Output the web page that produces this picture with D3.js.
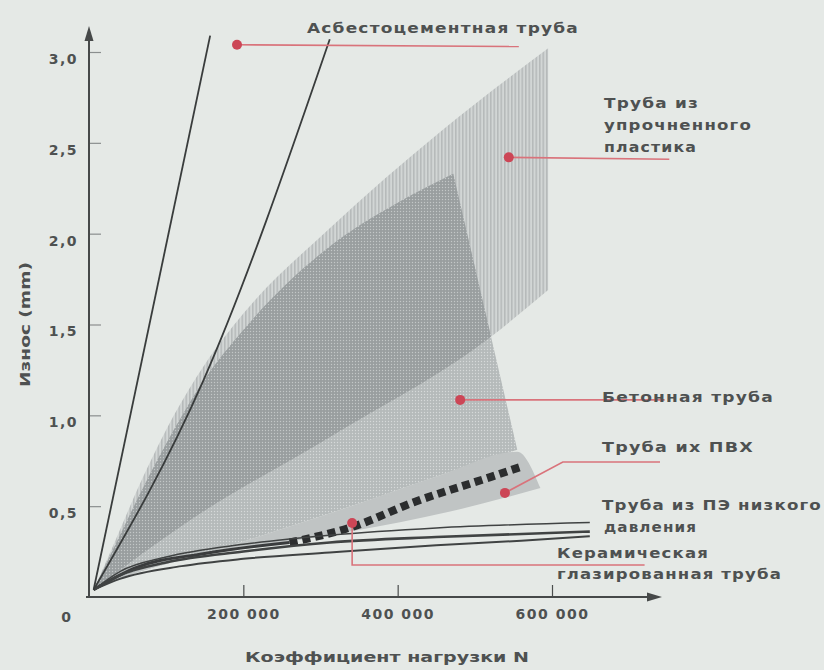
<!DOCTYPE html>
<html>
<head>
<meta charset="utf-8">
<script src="https://cdn.jsdelivr.net/npm/d3@7"></script>
<style>
  body { margin: 0; background: #e5e9e6; }
  svg { display: block; }
  text { font-family: "DejaVu Sans", sans-serif; font-weight: bold; fill: #4e5151; }
</style>
</head>
<body>
<svg id="chart"></svg>
<script>
// Size of the picture
const width = 824;
const height = 670;

// Axis ticks
const xTicks = [200000, 400000, 600000];
const yTicks = [0.5, 1.0, 1.5, 2.0, 2.5, 3.0];

// Asbestos-cement pipe: two boundary lines
const asbestosLeft = [[6000, 0.04], [157000, 3.09]];
const asbestosRight = [[6000, 0.04], [148000, 1.19], [312000, 3.07]];

// Reinforced plastic pipe: band edges
const plasticTop = [[6000, 0.04], [30000, 0.27], [70000, 0.66], [110000, 1.0], [150000, 1.28], [200000, 1.56], [312000, 2.03], [455000, 2.56], [595000, 3.02]];
const plasticBottom = [[6000, 0.04], [130000, 0.42], [312000, 0.88], [520000, 1.43], [595000, 1.69]];

// Concrete pipe: band edges
const concreteTop = [[6000, 0.04], [30000, 0.25], [70000, 0.6], [110000, 0.92], [150000, 1.2], [200000, 1.47], [312000, 1.93], [400000, 2.17], [472000, 2.33]];
const concreteBottom = [[6000, 0.04], [66000, 0.14], [144000, 0.23], [247000, 0.37], [347000, 0.51], [455000, 0.67], [555000, 0.81]];

// PVC pipe: band and mean line
const pvcTop = [[6000, 0.04], [66000, 0.14], [144000, 0.23], [247000, 0.37], [347000, 0.51], [455000, 0.67], [555000, 0.8], [585000, 0.6]];
const pvcBottom = [[6000, 0.04], [79000, 0.17], [209000, 0.27], [338000, 0.36], [468000, 0.47], [585000, 0.6]];
const pvcLine = [[6000, 0.04], [60000, 0.16], [150000, 0.24], [260000, 0.30], [344000, 0.39], [420000, 0.52], [520000, 0.66], [562000, 0.72]];

// Low-pressure PE pipe and glazed ceramic pipe
const peUpper = [[6000, 0.04], [40000, 0.14], [100000, 0.22], [200000, 0.29], [312000, 0.34], [450000, 0.38], [649000, 0.41]];
const peLower = [[6000, 0.04], [40000, 0.12], [100000, 0.19], [200000, 0.25], [312000, 0.30], [450000, 0.33], [649000, 0.36]];
const ceramic = [[6000, 0.04], [40000, 0.1], [120000, 0.17], [200000, 0.21], [312000, 0.245], [450000, 0.285], [560000, 0.31], [649000, 0.335]];

// Red callout leaders (data coords, first point gets the dot)
const leaders = [
  [[191800, 3.04], [557000, 3.03]],
  [[544000, 2.42], [752000, 2.41]],
  [[481000, 1.085], [746000, 1.085]],
  [[539000, 0.573], [614000, 0.743], [740000, 0.743]],
  [[341000, 0.407], [341000, 0.176], [720000, 0.176]]
];

// Label texts
const labelTexts = [
  "Асбестоцементная труба",
  "Труба из", "упрочненного", "пластика",
  "Бетонная труба",
  "Труба их ПВХ",
  "Труба из ПЭ низкого", "давления",
  "Керамическая", "глазированная труба"
];

// Where each label line sits: [x, y centre, width]
const labelLayout = [
  [307, 28, 272],
  [604, 103, 95], [604, 125, 148], [604, 147, 93],
  [602, 397, 172],
  [602, 447, 152],
  [602, 505, 220], [604, 527, 93],
  [557, 553, 152], [557, 574, 225]
];

const svg = d3.select("#chart")
    .attr("width", width)
    .attr("height", height);

svg.append("rect")
    .attr("width", width)
    .attr("height", height)
    .attr("fill", "#e5e9e6");

const x = d3.scaleLinear().domain([0, 600000]).range([89, 552]);
const y = d3.scaleLinear().domain([0, 3]).range([597, 52]);

const line = d3.line()
    .x(d => x(d[0]))
    .y(d => y(d[1]))
    .curve(d3.curveMonotoneX);

// closed shape: top edge, then bottom edge walked back
function band(top, bottom) {
    return line(top) + line(bottom.slice().reverse()).replace(/^M/, "L") + "Z";
}

// Patterns
const defs = svg.append("defs");

const vh = defs.append("pattern")
    .attr("id", "vhatch")
    .attr("patternUnits", "userSpaceOnUse")
    .attr("width", 3.5).attr("height", 10);
vh.append("rect").attr("width", 3.5).attr("height", 10).attr("fill", "#d2d6d5");
vh.append("line").attr("x1", 0.8).attr("x2", 0.8).attr("y1", 0).attr("y2", 10)
    .attr("stroke", "#a9aeae").attr("stroke-width", 1.1);

const dl = defs.append("pattern")
    .attr("id", "dotsLight")
    .attr("patternUnits", "userSpaceOnUse")
    .attr("width", 3).attr("height", 3);
dl.append("rect").attr("width", 3).attr("height", 3).attr("fill", "#b5baba");
dl.append("circle").attr("cx", 1.5).attr("cy", 1.5).attr("r", 0.7).attr("fill", "#d6d9d9");

const dd = defs.append("pattern")
    .attr("id", "dotsDark")
    .attr("patternUnits", "userSpaceOnUse")
    .attr("width", 3).attr("height", 3);
dd.append("rect").attr("width", 3).attr("height", 3).attr("fill", "#999e9f");
dd.append("circle").attr("cx", 1.5).attr("cy", 1.5).attr("r", 0.7).attr("fill", "#c3c7c7");

defs.append("clipPath")
    .attr("id", "plasticClip")
    .append("path")
    .attr("d", band(plasticTop, plasticBottom));

// Bands
svg.append("path")
    .attr("d", band(plasticTop, plasticBottom))
    .attr("fill", "url(#vhatch)");

const concreteShape = band(concreteTop, concreteBottom);
svg.append("path")
    .attr("d", concreteShape)
    .attr("fill", "url(#dotsLight)");

svg.append("path")
    .attr("d", concreteShape)
    .attr("clip-path", "url(#plasticClip)")
    .attr("fill", "url(#dotsDark)");

svg.append("path")
    .attr("d", band(pvcTop, pvcBottom))
    .attr("fill", "#c0c4c4");

// PVC mean line: solid near the origin, square dashes further on
svg.append("path")
    .attr("d", line(pvcLine.filter(d => d[0] <= 260000)))
    .attr("fill", "none")
    .attr("stroke", "#3a3c3d")
    .attr("stroke-width", 3);

svg.append("path")
    .attr("d", line(pvcLine.filter(d => d[0] >= 260000)))
    .attr("fill", "none")
    .attr("stroke", "#2b2d2e")
    .attr("stroke-width", 8)
    .attr("stroke-dasharray", "8,5");

// PE and ceramic lines
[[peUpper, 1.5], [peLower, 2.6], [ceramic, 2]].forEach(([pts, w]) => {
    svg.append("path")
        .attr("d", line(pts))
        .attr("fill", "none")
        .attr("stroke", "#404343")
        .attr("stroke-width", w);
});

// Asbestos lines
[asbestosLeft, asbestosRight].forEach(pts => {
    svg.append("path")
        .attr("d", line(pts))
        .attr("fill", "none")
        .attr("stroke", "#393c3c")
        .attr("stroke-width", 1.8);
});

// Axes
const yAxis = svg.append("g")
    .attr("transform", `translate(${x(0)},0)`)
    .call(d3.axisLeft(y).tickValues(yTicks).tickSize(-12).tickPadding(11)
        .tickFormat(d => d3.format(".1f")(d).replace(".", ",")));
yAxis.select(".domain").remove();
yAxis.selectAll(".tick line").attr("stroke", "#8a8e8e").attr("stroke-width", 1.2);
yAxis.selectAll(".tick text")
    .attr("y", 7)
    .style("font-size", "14px")
    .style("letter-spacing", "1.5px")
    .attr("fill", "#555858");

const xAxis = svg.append("g")
    .attr("transform", `translate(0,${y(0)})`)
    .call(d3.axisBottom(x).tickValues(xTicks).tickSize(-12).tickPadding(12)
        .tickFormat(d => d3.format(",")(d).replace(/,/g, " ")));
xAxis.select(".domain").remove();
xAxis.selectAll(".tick line").attr("stroke", "#4a4d4d").attr("stroke-width", 1.2);
xAxis.selectAll(".tick text")
    .style("font-size", "14px")
    .style("letter-spacing", "1.5px")
    .attr("fill", "#555858");

svg.append("text")
    .attr("x", 66).attr("y", 622)
    .attr("text-anchor", "middle")
    .style("font-size", "14px")
    .attr("fill", "#555858")
    .text("0");

const axisColor = "#464949";
svg.append("line")
    .attr("x1", x(0)).attr("x2", x(0))
    .attr("y1", y(0) + 1).attr("y2", 38)
    .attr("stroke", axisColor).attr("stroke-width", 2);
svg.append("path")
    .attr("d", `M${x(0)},26L${x(0) - 4.5},41L${x(0) + 4.5},41Z`)
    .attr("fill", axisColor);

svg.append("line")
    .attr("x1", 86).attr("x2", 650)
    .attr("y1", y(0)).attr("y2", y(0))
    .attr("stroke", axisColor).attr("stroke-width", 2);
svg.append("path")
    .attr("d", `M662,${y(0)}L647,${y(0) - 4.5}L647,${y(0) + 4.5}Z`)
    .attr("fill", axisColor);

// Axis titles
svg.append("text")
    .attr("x", 245).attr("y", 662)
    .attr("textLength", 284)
    .attr("lengthAdjust", "spacingAndGlyphs")
    .style("font-size", "14px")
    .text("Коэффициент нагрузки N");

svg.append("text")
    .attr("transform", "translate(30,387) rotate(-90)")
    .attr("textLength", 125)
    .attr("lengthAdjust", "spacingAndGlyphs")
    .style("font-size", "14px")
    .text("Износ (mm)");

// Callout leaders and dots
const leaderLine = d3.line().x(d => x(d[0])).y(d => y(d[1]));
leaders.forEach(pts => {
    svg.append("path")
        .attr("d", leaderLine(pts))
        .attr("fill", "none")
        .attr("stroke", "#d9737b")
        .attr("stroke-width", 1.6);
    svg.append("circle")
        .attr("cx", x(pts[0][0]))
        .attr("cy", y(pts[0][1]))
        .attr("r", 5)
        .attr("fill", "#cc4656");
});

// Labels
svg.selectAll("text.label")
    .data(labelTexts)
    .join("text")
    .attr("class", "label")
    .attr("x", (d, i) => labelLayout[i][0])
    .attr("y", (d, i) => labelLayout[i][1] + 5)
    .attr("textLength", (d, i) => labelLayout[i][2])
    .attr("lengthAdjust", "spacingAndGlyphs")
    .style("font-size", "14px")
    .style("letter-spacing", "1px")
    .text(d => d);
</script>
</body>
</html>
